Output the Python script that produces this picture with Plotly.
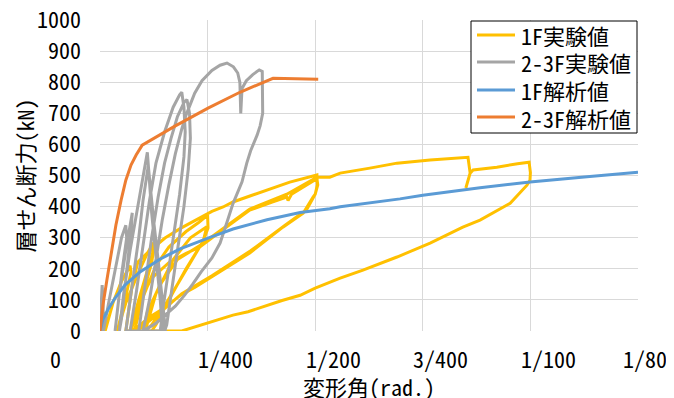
import plotly.graph_objects as go

# ---------------- data ----------------
series_names = ["1F実験値", "2-3F実験値", "1F解析値", "2-3F解析値"]
series_colors = ["#FFC000", "#A5A5A5", "#5B9BD5", "#ED7D31"]

x_tick_vals = [0, 0.0025, 0.005, 0.0075, 0.01, 0.0125]
x_tick_text = ["0", "1/400", "1/200", "3/400", "1/100", "1/80"]
y_tick_vals = [0, 100, 200, 300, 400, 500, 600, 700, 800, 900, 1000]

# 1F experiment (rad, kN)
exp1f_x = [0, 0.00005, 0.00010, 0.00015, 0.00012,
           0.00030, 0.00050, 0.00070, 0.00072, 0.00060, 0.00045, 0.00040,
           0.00060, 0.00090, 0.00110, 0.00125, 0.00122, 0.00105, 0.00085, 0.00070,
           0.00090, 0.00110, 0.00125, 0.00120, 0.00100, 0.00085, 0.00080,
           0.00100, 0.00130, 0.00160, 0.00200, 0.00230, 0.00250, 0.00251, 0.00240, 0.00210, 0.00180, 0.00150, 0.00120, 0.00105,
           0.00130, 0.00170, 0.00210, 0.00248, 0.00240, 0.00200, 0.00160, 0.00130, 0.00120, 0.00060,
           0.00075, 0.00088, 0.00112, 0.00151, 0.00188, 0.00228, 0.00260, 0.00286, 0.00309, 0.00350, 0.00388, 0.00441, 0.00504,
           0.00505, 0.00500, 0.00495, 0.00472, 0.00425, 0.00348, 0.00256, 0.00220, 0.00188, 0.00150, 0.00112, 0.00090, 0.00072,
           0.00090, 0.00120, 0.00160, 0.00200, 0.00232, 0.00290, 0.00348, 0.00400, 0.00434, 0.00437, 0.00445, 0.00504,
           0.00506, 0.00500, 0.00480, 0.00430, 0.00350, 0.00260, 0.00190, 0.00140, 0.00100, 0.00085, 0.00100,
           0.00110, 0.00140, 0.00180, 0.00232, 0.00290, 0.00348, 0.00434, 0.00504, 0.00534, 0.00558, 0.00627, 0.00690, 0.00767, 0.00820, 0.00855,
           0.00860, 0.00850, 0.00860, 0.00867, 0.00922, 0.00970, 0.00997,
           0.01000, 0.00999, 0.00992, 0.00953, 0.00883, 0.00843, 0.00767, 0.00690, 0.00611, 0.00558, 0.00500, 0.00465, 0.00423, 0.00388, 0.00344, 0.00309, 0.00249, 0.00209, 0.00190, 0.00100]
exp1f_y = [0, 30, 60, 40, 0,
           90, 160, 210, 190, 110, 30, 0,
           90, 190, 250, 285, 240, 160, 70, 0,
           100, 190, 265, 220, 120, 30, 0,
           110, 210, 270, 320, 350, 373, 331, 290, 220, 150, 80, 20, 0,
           120, 230, 300, 335, 290, 200, 100, 20, 0, 0,
           150, 222, 254, 299, 331, 360, 385, 399, 415, 435, 453, 479, 502,
           470, 440, 431, 379, 334, 251, 170, 140, 116, 75, 42, 15, 0,
           90, 170, 220, 250, 270, 330, 389, 415, 431, 420, 440, 490,
           470, 440, 390, 340, 258, 178, 120, 60, 15, 0, 0,
           60, 150, 230, 275, 335, 392, 440, 495, 495, 508, 524, 540, 550, 555, 559,
           508, 460, 508, 518, 527, 538, 543,
           510, 485, 469, 411, 357, 334, 283, 238, 196, 170, 138, 115, 98, 82, 62, 51, 26, 10, 0, 0]

# 2-3F experiment (rad, kN)
exp23f_x = [0, 0.00003, 0.00005, 0.00007, 0.00008,
            0.00020, 0.00035, 0.00050, 0.00060, 0.00062, 0.00050, 0.00040, 0.00035,
            0.00045, 0.00060, 0.00070, 0.00075, 0.00072, 0.00060, 0.00050, 0.00045,
            0.00055, 0.00070, 0.00085, 0.00095, 0.00105, 0.00110, 0.00113, 0.00118, 0.00125, 0.00135, 0.00145, 0.00150, 0.00152, 0.00060,
            0.00075, 0.00090, 0.00100, 0.00108, 0.00112, 0.00115, 0.00120, 0.00130, 0.00140, 0.00145, 0.00070,
            0.00085, 0.00100, 0.00115, 0.00130, 0.00150, 0.00170, 0.00185, 0.00190, 0.00195, 0.00198, 0.00195, 0.00185, 0.00170, 0.00155, 0.00145, 0.00140, 0.00090,
            0.00105, 0.00120, 0.00135, 0.00150, 0.00165, 0.00180, 0.00195, 0.00202, 0.00208, 0.00210, 0.00205, 0.00195, 0.00180, 0.00165, 0.00155, 0.00150, 0.00100,
            0.00115, 0.00130, 0.00145, 0.00160, 0.00175, 0.00190, 0.00200, 0.00210, 0.00220, 0.00237, 0.00260, 0.00279, 0.00295,
            0.00310, 0.00320, 0.00325, 0.00327, 0.00330, 0.00340, 0.00355, 0.00370, 0.00377,
            0.00378, 0.00378, 0.00372, 0.00365, 0.00350, 0.00341, 0.00330, 0.00318, 0.00309, 0.00295, 0.00279, 0.00260, 0.00235, 0.00215, 0.00197, 0.00175, 0.00151, 0.00130, 0.00112, 0.00100]
exp23f_y = [0, 80, 148, 100, 0,
            90, 200, 300, 340, 300, 180, 60, 0,
            120, 260, 350, 380, 320, 170, 40, 0,
            120, 260, 380, 460, 540, 575, 520, 440, 350, 230, 110, 30, 0, 0,
            150, 300, 420, 500, 530, 480, 380, 240, 100, 0, 0,
            130, 280, 420, 540, 640, 720, 760, 768, 720, 640, 560, 440, 300, 160, 60, 0, 0,
            150, 300, 430, 540, 620, 690, 735, 745, 700, 620, 520, 400, 260, 120, 20, 0, 0,
            100, 230, 360, 470, 570, 650, 695, 730, 765, 805, 838, 855, 862,
            850, 830, 800, 700, 780, 805, 825, 840, 835,
            780, 700, 660, 630, 580, 540, 480, 440, 410, 350, 283, 235, 190, 150, 116, 80, 51, 25, 10, 0]

# 1F analysis (rad, kN)
ana1f_x = [0, 0.00003, 0.00007, 0.00019, 0.00035, 0.00058, 0.00093, 0.00139, 0.00186, 0.00251,
           0.00309, 0.00388, 0.00465, 0.00534, 0.00558, 0.00697, 0.00750, 0.00883, 0.00999, 0.01138, 0.01250]
ana1f_y = [0, 20, 38, 70, 106, 148, 190, 231, 264, 299,
           328, 358, 381, 393, 400, 425, 437, 461, 479, 497, 511]

# 2-3F analysis (rad, kN)
ana23f_x = [0, 0.00007, 0.00016, 0.00026, 0.00037, 0.00049, 0.00060, 0.00072, 0.00084, 0.00098,
            0.00174, 0.00251, 0.00325, 0.00402, 0.00507]
ana23f_y = [0, 84, 164, 244, 341, 421, 485, 534, 566, 598,
            659, 717, 768, 813, 810]

# ---------------- figure ----------------
FONT = "Noto Sans Mono CJK JP, Noto Sans CJK JP, sans-serif"
FS = 22
fig = go.Figure()
all_x = [exp1f_x, exp23f_x, ana1f_x, ana23f_x]
all_y = [exp1f_y, exp23f_y, ana1f_y, ana23f_y]
for name, color, xs, ys in zip(series_names, series_colors, all_x, all_y):
    fig.add_trace(go.Scatter(x=xs, y=ys, mode="lines", name=name, showlegend=False,
                             line=dict(color=color, width=3), hoverinfo="skip"))

# plot area on screen: x 100..638, y 20..331 (helpers for placing decorations)
def px_x(p):
    return (p - 100) / 538.0

def px_y(p):
    return (331 - p) / 311.0

annotations = []
for v, t in zip(x_tick_vals, x_tick_text):
    if v == 0:
        shift = -45
    elif v == x_tick_vals[-1]:
        shift = 7
    else:
        shift = 18
    annotations.append(dict(x=v, y=0, xref="x", yref="paper", text=t, showarrow=False,
                            xanchor="center", yanchor="middle", xshift=shift, yshift=-27,
                            font=dict(family=FONT, size=FS, color="black")))
annotations.append(dict(x=0.5, y=0, xref="paper", yref="paper", text="変形角(rad.)",
                        showarrow=False, xanchor="center", yanchor="middle", yshift=-55,
                        height=24, font=dict(family=FONT, size=FS, color="black")))
annotations.append(dict(x=0, y=0.5, xref="paper", yref="paper", text="層せん断力(kN)",
                        showarrow=False, xanchor="center", yanchor="middle", xshift=-77,
                        textangle=-90, font=dict(family=FONT, size=FS, color="black")))

# legend box drawn by hand to match the reference layout
shapes = [dict(type="rect", xref="paper", yref="paper",
               x0=px_x(471), x1=px_x(637), y0=px_y(133), y1=px_y(21),
               line=dict(color="black", width=1), fillcolor="white", layer="above")]
row_y = [35, 62, 90, 117]
for name, color, ry in zip(series_names, series_colors, row_y):
    shapes.append(dict(type="line", xref="paper", yref="paper",
                       x0=px_x(477), x1=px_x(515), y0=px_y(ry), y1=px_y(ry),
                       line=dict(color=color, width=3), layer="above"))
    annotations.append(dict(x=px_x(519), y=px_y(ry), xref="paper", yref="paper",
                            text=name, showarrow=False, xanchor="left", yanchor="middle",
                            height=25, font=dict(family=FONT, size=FS, color="black")))

# the page adds an 8px body margin; margins below compensate for it
fig.update_layout(
    width=674, height=398,
    margin=dict(l=92, r=44, t=12, b=75, autoexpand=False),
    plot_bgcolor="white", paper_bgcolor="white",
    font=dict(family=FONT, size=FS, color="black"),
    showlegend=False,
    annotations=annotations,
    shapes=shapes,
)
fig.update_xaxes(range=[0, 0.0125], tickvals=x_tick_vals, showticklabels=False,
                 showgrid=True, gridcolor="#d9d9d9", gridwidth=1, zeroline=False,
                 showline=False, ticks="", automargin=False)
fig.update_yaxes(range=[0, 1000.5], tickvals=y_tick_vals, showgrid=True,
                 gridcolor="#d9d9d9", gridwidth=1, zeroline=False, showline=False,
                 ticks="", ticklabelstandoff=18, automargin=False,
                 ticklabeloverflow="allow",
                 tickfont=dict(family=FONT, size=FS, color="black"))

fig.write_html("out.html")
